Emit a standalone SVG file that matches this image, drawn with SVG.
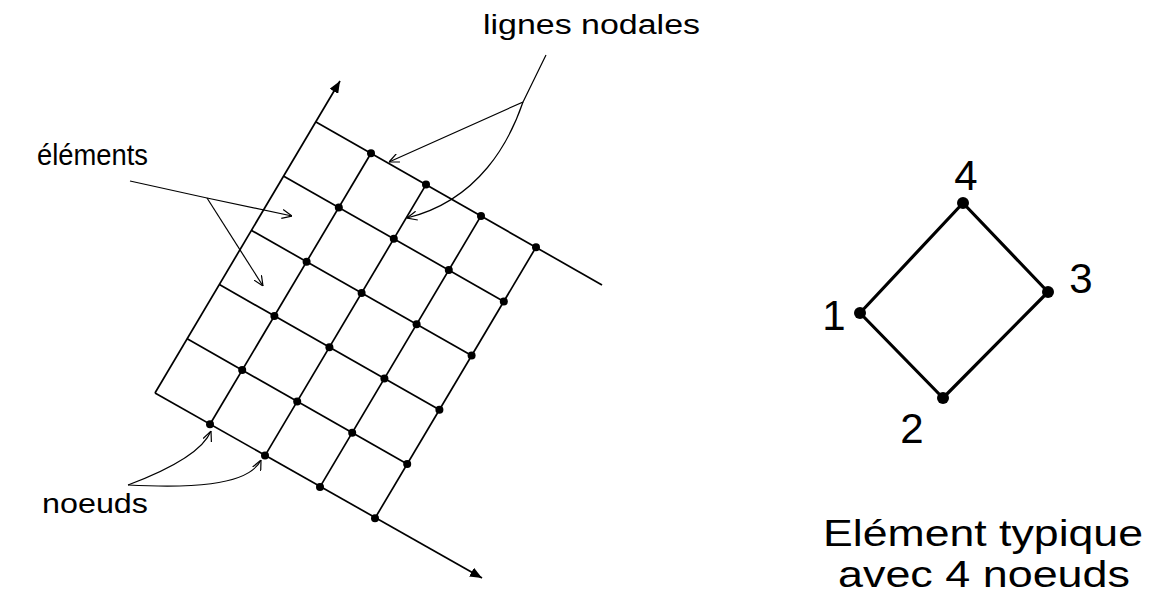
<svg xmlns="http://www.w3.org/2000/svg" width="1154" height="596" viewBox="0 0 1154 596">
  <style>
    .grid { stroke: #000; stroke-width: 1.7; fill: none; }
    .call { stroke: #000; stroke-width: 1.2; fill: none; }
    .node { fill: #000; }
    .lbl { font-family: "Liberation Sans", Arial, sans-serif; fill: #000; }
    .elem { stroke: #000; stroke-width: 3.2; fill: none; stroke-linejoin: round; }
  </style>
  <defs>
    <marker id="axisArrow" viewBox="0 0 12 10" refX="12" refY="5" markerWidth="12" markerHeight="10" markerUnits="userSpaceOnUse" orient="auto">
      <path d="M0,0 L12,5 L0,10 Z" fill="#000"/>
    </marker>
    <marker id="openArrow" viewBox="0 0 10 10" refX="10" refY="5" markerWidth="10" markerHeight="10" markerUnits="userSpaceOnUse" orient="auto">
      <path d="M0,0.5 L10,5 L0,9.5" fill="none" stroke="#000" stroke-width="1.2"/>
    </marker>
  </defs>
  <rect width="1154" height="596" fill="#fff"/>

  <g id="mesh">
    <!-- axes -->
    <line class="grid" x1="155" y1="393" x2="340" y2="81" marker-end="url(#axisArrow)"/>
    <line class="grid" x1="155" y1="393" x2="482" y2="578" marker-end="url(#axisArrow)"/>
    <!-- nodal lines parallel to bottom axis -->
    <line class="grid" x1="187.2" y1="338.8" x2="407.2" y2="464"/>
    <line class="grid" x1="219.4" y1="284.6" x2="439.4" y2="409.8"/>
    <line class="grid" x1="251.6" y1="230.4" x2="471.6" y2="355.6"/>
    <line class="grid" x1="283.8" y1="176.2" x2="503.8" y2="301.4"/>
    <line class="grid" x1="316" y1="122" x2="602" y2="285"/>
    <!-- nodal lines parallel to left axis -->
    <line class="grid" x1="210" y1="424.3" x2="371" y2="153.3"/>
    <line class="grid" x1="265" y1="455.6" x2="426" y2="184.6"/>
    <line class="grid" x1="320" y1="486.9" x2="481" y2="215.9"/>
    <line class="grid" x1="375" y1="518.2" x2="536" y2="247.2"/>
  </g>

  <g id="mesh-nodes">
    <circle class="node" r="4" cx="210" cy="424.3"/>
    <circle class="node" r="4" cx="242.2" cy="370.1"/>
    <circle class="node" r="4" cx="274.4" cy="315.9"/>
    <circle class="node" r="4" cx="306.6" cy="261.7"/>
    <circle class="node" r="4" cx="338.8" cy="207.5"/>
    <circle class="node" r="4" cx="371" cy="153.3"/>
    <circle class="node" r="4" cx="265" cy="455.6"/>
    <circle class="node" r="4" cx="297.2" cy="401.4"/>
    <circle class="node" r="4" cx="329.4" cy="347.2"/>
    <circle class="node" r="4" cx="361.6" cy="293"/>
    <circle class="node" r="4" cx="393.8" cy="238.8"/>
    <circle class="node" r="4" cx="426" cy="184.6"/>
    <circle class="node" r="4" cx="320" cy="486.9"/>
    <circle class="node" r="4" cx="352.2" cy="432.7"/>
    <circle class="node" r="4" cx="384.4" cy="378.5"/>
    <circle class="node" r="4" cx="416.6" cy="324.3"/>
    <circle class="node" r="4" cx="448.8" cy="270.1"/>
    <circle class="node" r="4" cx="481" cy="215.9"/>
    <circle class="node" r="4" cx="375" cy="518.2"/>
    <circle class="node" r="4" cx="407.2" cy="464"/>
    <circle class="node" r="4" cx="439.4" cy="409.8"/>
    <circle class="node" r="4" cx="471.6" cy="355.6"/>
    <circle class="node" r="4" cx="503.8" cy="301.4"/>
    <circle class="node" r="4" cx="536" cy="247.2"/>
  </g>

  <g id="label-elements">
    <text class="lbl" x="37" y="165" font-size="29" textLength="111" lengthAdjust="spacingAndGlyphs">éléments</text>
  </g>
  <g id="label-lignes-nodales">
    <text class="lbl" x="483" y="34" font-size="27" textLength="217" lengthAdjust="spacingAndGlyphs">lignes nodales</text>
  </g>
  <g id="label-noeuds">
    <text class="lbl" x="42" y="513" font-size="27" textLength="106" lengthAdjust="spacingAndGlyphs">noeuds</text>
  </g>

  <g id="connectors">
    <!-- éléments callouts -->
    <path class="call" d="M130,181 L207,198 L292,216" marker-end="url(#openArrow)"/>
    <path class="call" d="M207,198 L263,286" marker-end="url(#openArrow)"/>
    <!-- lignes nodales callouts -->
    <path class="call" d="M546,55 L523,102 L389,162" marker-end="url(#openArrow)"/>
    <path class="call" d="M523,102 C510,140 480,200 407,218" marker-end="url(#openArrow)"/>
    <!-- noeuds callouts -->
    <path class="call" d="M128,485 Q200,458 211,431" marker-end="url(#openArrow)"/>
    <path class="call" d="M128,485 C185,488 248,487 261,460" marker-end="url(#openArrow)"/>
  </g>

  <g id="typical-element">
    <polygon class="elem" points="860,313 943,398 1048,292 963,203"/>
    <circle class="node" r="6" cx="860" cy="313"/>
    <circle class="node" r="6" cx="943" cy="398"/>
    <circle class="node" r="6" cx="1048" cy="292"/>
    <circle class="node" r="6" cx="963" cy="203"/>
    <text class="lbl" x="834" y="330" font-size="42" text-anchor="middle">1</text>
    <text class="lbl" x="912" y="443" font-size="42" text-anchor="middle">2</text>
    <text class="lbl" x="1081" y="293" font-size="42" text-anchor="middle">3</text>
    <text class="lbl" x="966" y="190" font-size="42" text-anchor="middle">4</text>
  </g>

  <g id="title">
    <text class="lbl" x="823" y="546" font-size="36" textLength="320" lengthAdjust="spacingAndGlyphs">Elément typique</text>
    <text class="lbl" x="838" y="587" font-size="36" textLength="292" lengthAdjust="spacingAndGlyphs">avec 4 noeuds</text>
  </g>
</svg>
